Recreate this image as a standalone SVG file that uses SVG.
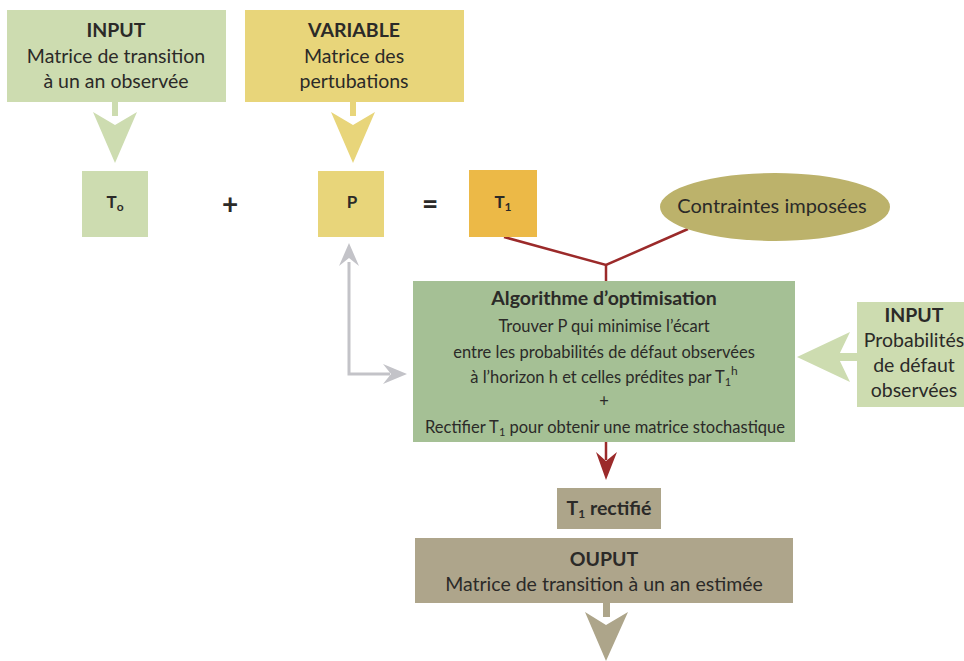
<svg xmlns="http://www.w3.org/2000/svg" width="964" height="661" viewBox="0 0 964 661">
<style>
text{font-family:Lato,"Open Sans","Liberation Sans",sans-serif;fill:#2b2a28;text-anchor:middle}
.b{font-weight:bold}
.t{font-size:19.5px}
.s{font-size:16.5px}
.red{stroke:#9b2a2a;stroke-width:2.5;fill:none}
.gray{stroke:#c3c3c8;stroke-width:3;fill:none}
</style>
<rect width="964" height="661" fill="#ffffff"/>
<g id="connectors">
<rect x="112" y="102" width="6" height="14" fill="#cddcb0"/>
<polygon points="93,112 115,125 137,112 115,163" fill="#cddcb0"/>
<rect x="350" y="102" width="6" height="14" fill="#e8d57a"/>
<polygon points="331,112 353,125 375,112 353,163" fill="#e8d57a"/>
<polyline class="red" points="504,237 606,265 688,229"/>
<line class="red" x1="606" y1="264" x2="606" y2="282"/>
<line class="red" x1="606" y1="442" x2="606" y2="460"/>
<polygon points="596,452 606,461 617,452 606,480" fill="#9b2a2a"/>
<polyline class="gray" points="349,262 349,374 390,374"/>
<polygon points="339,266 349,258 359,266 349,243" fill="#c3c3c8"/>
<polygon points="383,364 391,374 383,384 407,374" fill="#c3c3c8"/>
<rect x="836" y="353" width="22" height="8" fill="#cddcb0"/>
<polygon points="850,332 838,357 850,382 797,357" fill="#cddcb0"/>
<rect x="603" y="603" width="7" height="14" fill="#ada58a"/>
<polygon points="585,612 606,625 628,612 606,661" fill="#ada58a"/>
</g>
<g id="input1">
<rect x="7" y="10" width="219" height="92" fill="#cddcb0"/>
<text x="116" y="37" class="t b">INPUT</text>
<text x="116" y="63" class="t">Matrice de transition</text>
<text x="116" y="88" class="t">à un an observée</text>
</g>
<g id="variable">
<rect x="245" y="10" width="219" height="92" fill="#e8d57a"/>
<text x="354" y="37" class="t b">VARIABLE</text>
<text x="354" y="63" class="t">Matrice des</text>
<text x="354" y="88" class="t">pertubations</text>
</g>
<g id="t0">
<rect x="82" y="171" width="66" height="66" fill="#cddcb0"/>
<text x="115" y="208" class="b" font-size="17">T<tspan font-size="12" dy="3">o</tspan></text>
</g>
<g id="plus"><text x="230" y="214" class="b" font-size="28">+</text></g>
<g id="p">
<rect x="318" y="171" width="66" height="66" fill="#e8d57a"/>
<text x="352" y="208" class="b" font-size="17">P</text>
</g>
<g id="equals"><text x="430" y="214" class="b" font-size="28">=</text></g>
<g id="t1">
<rect x="469" y="170" width="68" height="67" fill="#ecb947"/>
<text x="503" y="208" class="b" font-size="17">T<tspan font-size="12" dy="3">1</tspan></text>
</g>
<g id="contraintes">
<ellipse cx="775" cy="207" rx="115" ry="34" fill="#bcb26b"/>
<text x="772" y="213" font-size="20">Contraintes imposées</text>
</g>
<g id="algo">
<rect x="413" y="281" width="382" height="161" fill="#a5c095"/>
<text x="604" y="305" class="b" font-size="19.5">Algorithme d’optimisation</text>
<text x="604" y="332" class="s">Trouver P qui minimise l’écart</text>
<text x="604" y="358" class="s">entre les probabilités de défaut observées</text>
<text x="604" y="383" class="s">à l’horizon h et celles prédites par T<tspan font-size="11" dy="3">1</tspan><tspan font-size="12" dy="-11">h</tspan></text>
<text x="604" y="407" class="s">+</text>
<text x="605" y="433" class="s">Rectifier T<tspan font-size="11" dy="3">1</tspan><tspan dy="-3"> pour obtenir une matrice stochastique</tspan></text>
</g>
<g id="input2">
<rect x="857" y="302" width="120" height="105" fill="#cddcb0"/>
<text x="914" y="322" class="t b">INPUT</text>
<text x="914" y="347" class="t">Probabilités</text>
<text x="914" y="372" class="t">de défaut</text>
<text x="914" y="397" class="t">observées</text>
</g>
<g id="t1rect">
<rect x="557" y="488" width="104" height="41" fill="#ada58a"/>
<text x="609" y="515" class="t b">T<tspan font-size="12" dy="3">1</tspan><tspan dy="-3"> rectifié</tspan></text>
</g>
<g id="output">
<rect x="415" y="538" width="378" height="65" fill="#aea58b"/>
<text x="604" y="566" class="t b">OUPUT</text>
<text x="604" y="591" class="t">Matrice de transition à un an estimée</text>
</g>
</svg>
